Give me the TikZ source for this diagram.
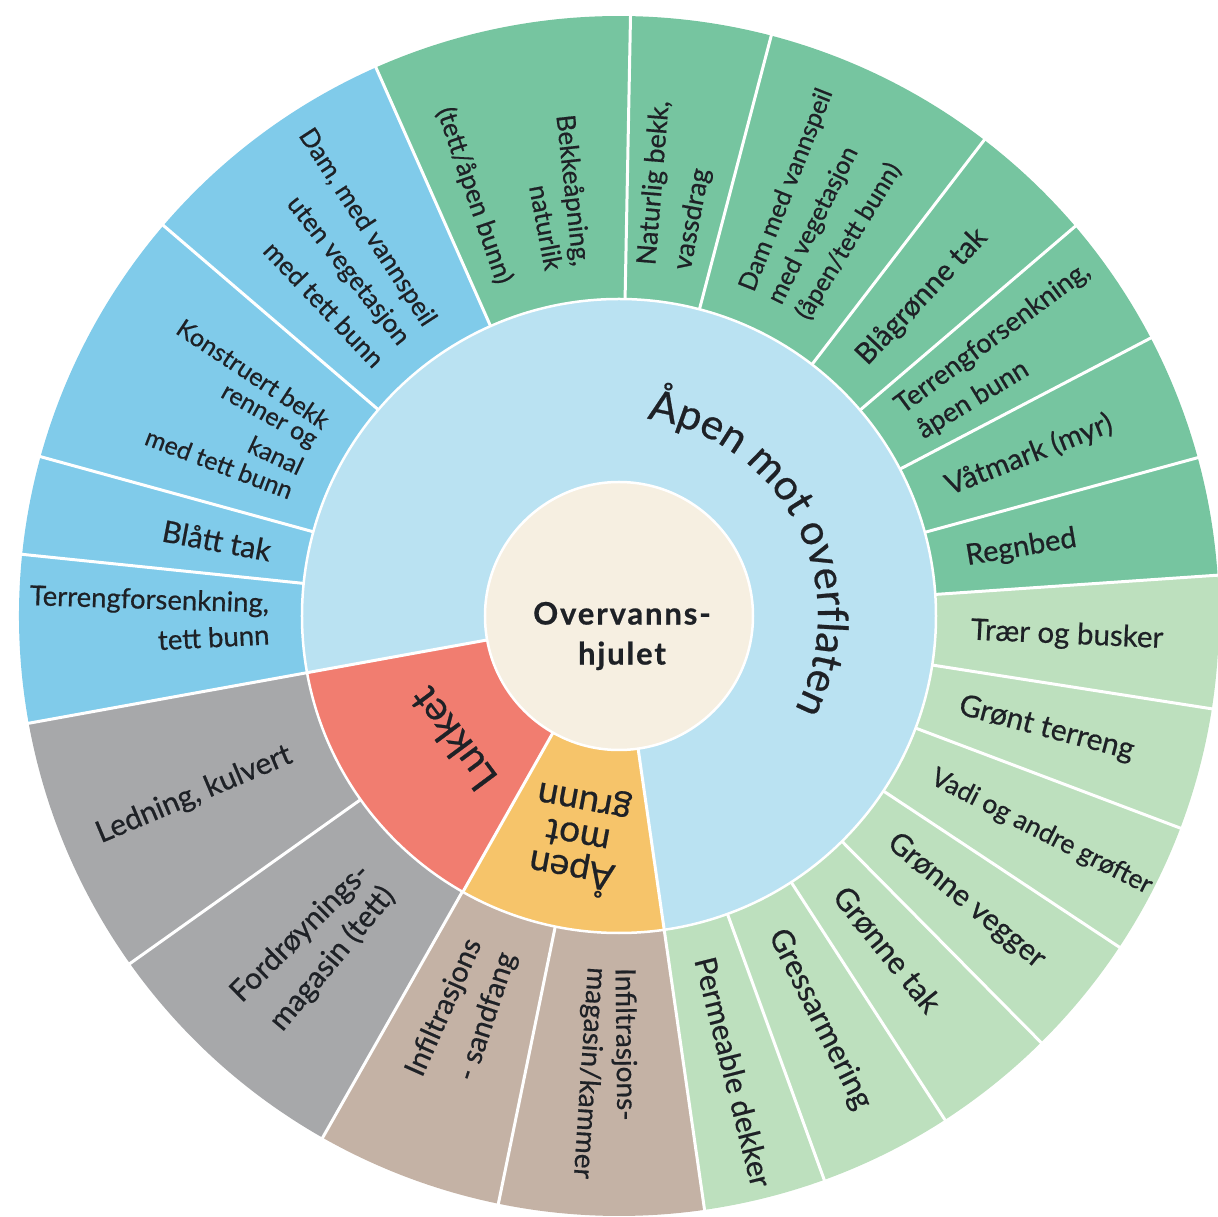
\documentclass[tikz,border=0pt]{standalone}
\usepackage{fontspec}
\setmainfont{Lato}[FakeBold=0.6]
\usetikzlibrary{decorations.text}

\definecolor{ink}{HTML}{1E2126}
\definecolor{hubcream}{HTML}{F6EFE1}
\definecolor{openblue}{HTML}{BAE2F2}
\definecolor{closedred}{HTML}{F17D70}
\definecolor{groundorange}{HTML}{F6C46A}
\definecolor{waterblue}{HTML}{80CBEA}
\definecolor{deepgreen}{HTML}{76C5A0}
\definecolor{palegreen}{HTML}{BDE0BE}
\definecolor{soiltan}{HTML}{C4B2A5}
\definecolor{pipegray}{HTML}{A7A8AA}

% annular sector: colour, start angle, end angle, inner radius, outer radius
\newcommand\ringpart[5]{%
  \fill[#1] (#2:#4) arc[start angle=#2, end angle=#3, radius=#4]
    -- (#3:#5) arc[start angle=#3, end angle=#2, radius=#5] -- cycle;}

\tikzset{
  sep/.style={draw=white, line width=3pt},
  fs/.style={font=\fontsize{#1}{\fpeval{1.12*#1}}\selectfont},
  % each text line runs along its own radius, starting at the inner edge
  outward/.style={anchor=west, inner sep=0pt, text=ink, rotate=#1},
  inward/.style={anchor=east, inner sep=0pt, text=ink, rotate=#1-180},
}

\begin{document}
\begin{tikzpicture}[x=1pt,y=1pt]
\useasboundingbox (-619,-601) rectangle (599,616);

% outer ring groups
\ringpart{deepgreen}{3.9}{113.9}{317}{600}
\ringpart{waterblue}{113.9}{190.3}{317}{600}
\ringpart{pipegray}{190.3}{240.4}{317}{600}
\ringpart{soiltan}{240.4}{278.2}{317}{600}
\ringpart{palegreen}{-81.8}{3.9}{317}{600}

% middle ring
\ringpart{openblue}{-81.8}{190.3}{134}{317}
\ringpart{closedred}{190.3}{240.5}{134}{317}
\ringpart{groundorange}{240.5}{278.2}{134}{317}

% separators
\foreach \a in {3.9,15.3,27.6,40.5,52.5,75.3,88.9,113.9,139.4,164.6,174.1,190.3,
                215.4,240.4,258.4,278.2,-70,-57.1,-45.3,-33.5,-20.7,-8.9}
  \draw[sep] (\a:317) -- (\a:601);
\foreach \a in {190.3,240.5,278.2}
  \draw[sep] (\a:134) -- (\a:317);
\draw[sep, line width=2.5pt] (0,0) circle[radius=317];

% hub
\fill[hubcream, draw=white, line width=2.5pt] (0,0) circle[radius=134];
\node[font=\bfseries\fontsize{31}{40}\selectfont\addfontfeatures{LetterSpace=6},
      align=center, text=ink] (hub) at (3,-20) {Overvanns-\\hjulet};

% middle ring labels
\path[decorate, decoration={text along path,
      text={|\color{ink}\fontsize{42}{50}\selectfont|Åpen mot overflaten},
      text align=center}]
  (97:199) arc[start angle=97, end angle=-43, radius=199];
\node[font=\fontsize{40}{48}\selectfont, text=ink, rotate=126.6] (lukket)
  at (216.6:207) {Lukket};
\node[font=\fontsize{37}{34}\selectfont, text=ink, align=center, rotate=169.4] (grunn)
  at (259.4:226) {Åpen\\mot\\grunn};

% outer labels, right half (reading outward)
\node[outward=85.3, fs=27] (naturlig1) at (85.3:352) {Naturlig bekk,};
\node[outward=79.5, fs=27] (naturlig2) at (79.5:352) {vassdrag};
\node[outward=68.5, fs=25] (dammed1) at (68.5:350) {Dam med vannspeil};
\node[outward=63.5, fs=25] (dammed2) at (63.5:350) {med vegetasjon};
\node[outward=58.5, fs=25] (dammed3) at (58.5:350) {(åpen/tett bunn)};
\node[outward=46.5, fs=29] (blagronne) at (46.5:352) {Blågrønne tak};
\node[outward=36.6, fs=27] (terrapen1) at (36.6:348) {Terrengforsenkning,};
\node[outward=31.4, fs=27] (terrapen2) at (31.4:352) {åpen bunn};
\node[outward=21.45, fs=29] (vatmark) at (21.45:352) {Våtmark (myr)};
\node[outward=9.6, fs=29] (regnbed) at (9.6:352) {Regnbed};
\node[outward=-2.5, fs=29.5] (traer) at (-2.5:352) {Trær og busker};
\node[outward=-14.8, fs=30] (gront) at (-14.8:352) {Grønt terreng};
\node[outward=-27.1, fs=26.5] (vadi) at (-27.1:352) {Vadi og andre grøfter};
\node[outward=-39.4, fs=30] (vegger) at (-39.4:352) {Grønne vegger};
\node[outward=-51.2, fs=31] (gronntak) at (-51.2:352) {Grønne tak};
\node[outward=-63.55, fs=31] (gress) at (-63.55:352) {Gressarmering};
\node[outward=-75.9, fs=30] (perm) at (-75.9:352) {Permeable dekker};
\node[outward=-89.3, fs=28] (infmag1) at (-89.3:352) {Infiltrasjons-};
\node[outward=-93.8, fs=28] (infmag2) at (-93.8:352) {magasin/kammer};

% outer labels, left half (reading inward)
\node[inward=246.0, fs=29] (infsand1) at (246.0:355) {Infiltrasjons};
\node[inward=251.8, fs=29] (infsand2) at (251.8:355) {- sandfang};
\node[inward=224.9, fs=30] (fordr1) at (224.9:358) {Fordrøynings-};
\node[inward=230.1, fs=30] (fordr2) at (230.1:358) {magasin (tett)};
\node[inward=202.85, fs=30] (ledning) at (202.85:356) {Ledning, kulvert};
\node[inward=178.2, fs=27.5] (terrtett1) at (178.2:350) {Terrengforsenkning,};
\node[inward=183.0, fs=27.5] (terrtett2) at (183.0:350) {tett bunn};
\node[inward=169.35, fs=30] (blatt) at (169.35:354) {Blått tak};
\node[inward=146.5, fs=25] (konstr1) at (146.5:350) {Konstruert bekk};
\node[inward=150.7, fs=25] (konstr2) at (150.7:350) {renner og};
\node[inward=154.9, fs=25] (konstr3) at (154.9:350) {kanal};
\node[inward=159.1, fs=25] (konstr4) at (159.1:350) {med tett bunn};
\node[inward=123.0, fs=26] (damuten1) at (123.0:348) {Dam, med vannspeil};
\node[inward=128.2, fs=26] (damuten2) at (128.2:348) {uten vegetasjon};
\node[inward=133.4, fs=26] (damuten3) at (133.4:348) {med tett bunn};
\node[inward=96.3, fs=26] (bekk1) at (96.3:352) {Bekkeåpning,};
\node[inward=100.6, fs=26] (bekk2) at (100.6:352) {naturlik};
\node[inward=109.0, fs=26] (bekk3) at (109.0:352) {(tett/åpen bunn)};
\end{tikzpicture}
\end{document}
